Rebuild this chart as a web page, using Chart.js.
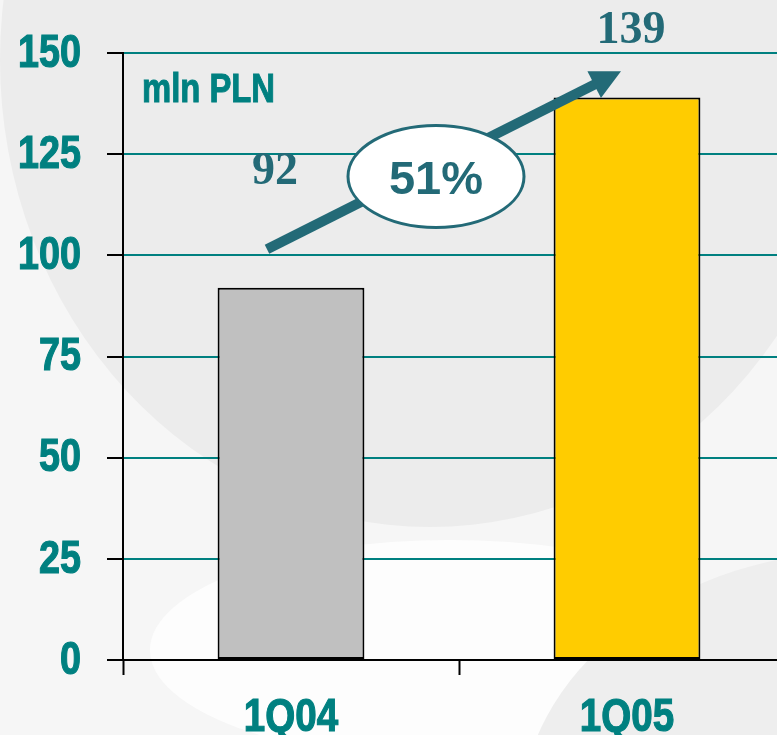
<!DOCTYPE html>
<html lang="en">
<head>
    <meta charset="UTF-8">
    <title>1Q04 vs 1Q05</title>
    <script src="https://cdn.jsdelivr.net/npm/chart.js"></script>
    <style>
        html, body { margin: 0; padding: 0; overflow: hidden; background: #f7f7f7; }
        .chart-wrapper { position: relative; width: 800px; height: 735px; }
    </style>
</head>
<body>
    <div class="chart-wrapper">
        <canvas id="growthChart"></canvas>
    </div>
    <script>
        // data
        const categories = ['1Q04', '1Q05'];
        const values = [92, 139];
        const barColors = ['#c0c0c0', '#ffcc00'];
        const yTicks = [0, 25, 50, 75, 100, 125, 150];
        const unitLabel = 'mln PLN';

        const teal = '#008080';
        const dark = '#236a77';
        const sans = "'Liberation Sans', Arial, sans-serif";
        const serif = "'Liberation Serif', 'Times New Roman', serif";
        const squeeze = 0.82; // no narrow font installed, condense by hand

        function narrowText(c, text, x, y, align) {
            c.save();
            c.translate(x, y);
            c.scale(squeeze, 1);
            c.textAlign = align;
            c.fillText(text, 0, 0);
            c.strokeText(text, 0, 0); // thicken strokes a little
            c.restore();
        }

        // soft background shapes
        const backdrop = {
            id: 'backdrop',
            beforeDraw(chart) {
                const c = chart.ctx;
                c.save();
                c.fillStyle = '#f6f6f6';
                c.fillRect(0, 0, chart.width, chart.height);
                c.fillStyle = '#fdfdfd';
                c.beginPath();
                c.ellipse(450, 650, 300, 110, 0, 0, Math.PI * 2);
                c.fill();
                c.fillStyle = '#ececec';
                c.beginPath();
                c.ellipse(430, 60, 430, 467, 0, 0, Math.PI * 2);
                c.fill();
                c.fillStyle = '#eeeeee';
                c.beginPath();
                c.ellipse(870, 820, 350, 270, 0, 0, Math.PI * 2);
                c.fill();
                c.restore();
            }
        };

        // condensed axis labels, taken from the scales' own ticks
        const axisLabels = {
            id: 'axisLabels',
            afterDraw(chart) {
                const c = chart.ctx;
                const x = chart.scales.x, y = chart.scales.y;
                c.save();
                c.fillStyle = teal;
                c.strokeStyle = teal;
                c.lineWidth = 1.2;
                c.font = 'bold 46px ' + sans;
                c.textBaseline = 'middle';
                y.ticks.forEach((t, i) => {
                    narrowText(c, String(t.value), 81, y.getPixelForTick(i) + 1, 'right');
                });
                c.font = 'bold 47px ' + sans;
                c.textBaseline = 'alphabetic';
                x.ticks.forEach((t, i) => {
                    narrowText(c, categories[t.value], x.getPixelForTick(i), 731, 'center');
                });
                c.restore();
            }
        };

        // arrow, growth bubble and value labels
        const annotations = {
            id: 'annotations',
            afterDatasetsDraw(chart) {
                const c = chart.ctx;
                const x = chart.scales.x, y = chart.scales.y;
                const cx0 = x.getPixelForValue(0), cx1 = x.getPixelForValue(1);
                c.save();

                // arrow
                const sx = cx0 - 24, sy = y.getPixelForValue(101.5);
                const tx = cx1 - 6, ty = y.getPixelForValue(145.5);
                const ang = Math.atan2(ty - sy, tx - sx);
                const headLen = 30, headHalf = 15;
                const bx = tx - headLen * Math.cos(ang), by = ty - headLen * Math.sin(ang);
                c.strokeStyle = dark;
                c.fillStyle = dark;
                c.lineWidth = 10;
                c.beginPath();
                c.moveTo(sx, sy);
                c.lineTo(bx + 2 * Math.cos(ang), by + 2 * Math.sin(ang));
                c.stroke();
                c.beginPath();
                c.moveTo(tx, ty);
                c.lineTo(bx + headHalf * Math.sin(ang), by - headHalf * Math.cos(ang));
                c.lineTo(bx - headHalf * Math.sin(ang), by + headHalf * Math.cos(ang));
                c.closePath();
                c.fill();

                // bubble
                const ex = (cx0 + cx1) / 2 - 23, ey = y.getPixelForValue(119.5);
                c.fillStyle = '#ffffff';
                c.lineWidth = 3;
                c.beginPath();
                c.ellipse(ex, ey, 88, 51, 0, 0, Math.PI * 2);
                c.fill();
                c.stroke();

                const growth = Math.round((values[1] / values[0] - 1) * 100) + '%';
                c.fillStyle = dark;
                c.font = 'bold 47px ' + sans;
                c.textAlign = 'center';
                c.textBaseline = 'middle';
                c.fillText(growth, ex, ey + 5);

                // value labels
                c.font = 'bold 46px ' + serif;
                c.fillText(String(values[0]), cx0 - 16, y.getPixelForValue(120.6));
                c.fillText(String(values[1]), cx1 + 4, y.getPixelForValue(155.4));

                // unit
                c.fillStyle = teal;
                c.strokeStyle = teal;
                c.lineWidth = 1;
                c.font = 'bold 40px ' + sans;
                c.textBaseline = 'middle';
                narrowText(c, unitLabel, x.left + 19, y.getPixelForValue(140.6), 'left');
                c.restore();
            }
        };

        new Chart(document.getElementById('growthChart'), {
            type: 'bar',
            data: {
                labels: categories,
                datasets: [{
                    data: values,
                    backgroundColor: barColors,
                    borderColor: '#000000',
                    borderWidth: 2,
                    borderSkipped: false,
                    categoryPercentage: 1,
                    barPercentage: 0.437
                }]
            },
            options: {
                responsive: true,
                maintainAspectRatio: false,
                animation: false,
                layout: { padding: { top: 53, right: 5, left: 0, bottom: 0 } },
                plugins: {
                    legend: { display: false },
                    tooltip: { enabled: false }
                },
                scales: {
                    x: {
                        grid: {
                            display: true,
                            drawOnChartArea: false,
                            tickLength: 15,
                            tickWidth: 2,
                            tickColor: '#000000'
                        },
                        border: { color: '#000000', width: 2 },
                        ticks: {
                            color: 'rgba(0,0,0,0)',
                            font: { family: sans, size: 46, weight: 'bold' }
                        },
                        afterFit: s => { s.height = 75; }
                    },
                    y: {
                        min: 0,
                        max: 150,
                        afterBuildTicks: s => { s.ticks = yTicks.map(v => ({ value: v })); },
                        grid: {
                            color: ctx => ctx.tick && ctx.tick.value === 0 ? '#000000' : teal,
                            lineWidth: 2,
                            tickLength: 16,
                            tickWidth: 2,
                            tickColor: '#000000'
                        },
                        border: { color: '#000000', width: 2 },
                        ticks: {
                            color: 'rgba(0,0,0,0)',
                            font: { family: sans, size: 46, weight: 'bold' }
                        },
                        afterFit: s => { s.width = 123; }
                    }
                }
            },
            plugins: [backdrop, annotations, axisLabels]
        });
    </script>
</body>
</html>
